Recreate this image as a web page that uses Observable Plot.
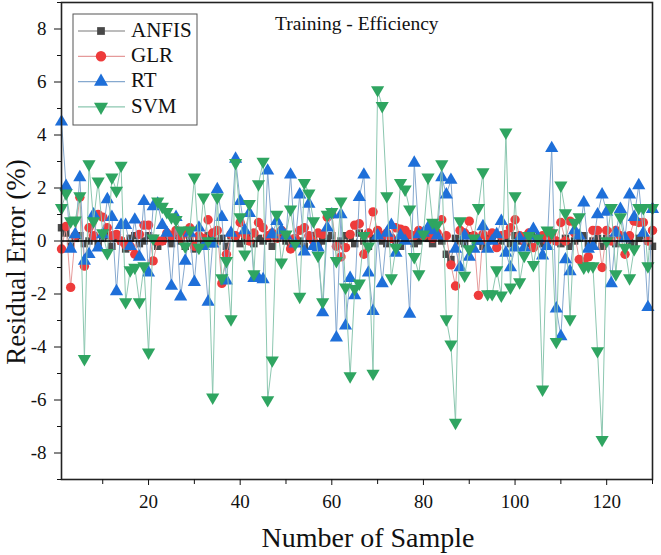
<!DOCTYPE html>
<html>
<head>
<meta charset="utf-8">
<script src="https://cdn.jsdelivr.net/npm/d3@7"></script>
<script src="https://cdn.jsdelivr.net/npm/@observablehq/plot@0.6"></script>
<style>
  html, body { margin: 0; padding: 0; background: #fff; }
  #chart { width: 661px; height: 555px; }
  #chart svg, #chart svg g, #chart svg text { font-family: "Liberation Serif", "Times New Roman", serif !important; font-variant: normal !important; }
</style>
</head>
<body>
<div id="chart"></div>
<script>
// ---- Data ----
const seriesNames = ["ANFIS", "GLR", "RT", "SVM"];
const xTicks = [20, 40, 60, 80, 100, 120];
const xMinorTicks = [10, 30, 50, 70, 90, 110, 130];
const yTicks = [-8, -6, -4, -2, 0, 2, 4, 6, 8];
const yMinorTicks = [-9, -7, -5, -3, -1, 1, 3, 5, 7, 9];

const anfis = [0.5,0.3,-0.2,0.1,0.2,-0.1,0.0,0.2,-0.1,0.1,
  0.2,-0.2,0.1,0.0,-0.3,0.1,0.2,-0.1,0.0,0.2,
  0.1,-0.2,0.0,0.1,-0.1,0.2,0.0,-0.2,0.1,-0.3,
  0.0,0.1,0.2,-0.1,0.0,0.1,-0.2,0.2,0.1,-0.1,
  0.0,0.2,-0.1,0.1,0.0,0.1,-0.2,0.1,0.2,0.0,
  -0.1,0.1,0.0,-0.2,0.1,0.2,-0.1,0.0,0.1,0.2,
  -0.1,0.0,0.2,0.1,-0.1,0.3,0.0,-0.2,0.1,0.2,
  0.0,-0.1,0.1,0.0,-0.2,0.1,0.2,-0.1,0.0,0.3,
  0.1,-0.1,0.2,0.0,-0.5,-0.7,0.1,0.0,-0.1,0.2,
  0.1,0.0,-0.2,0.1,0.2,-0.1,0.0,0.1,-0.1,0.2,
  0.0,0.1,-0.1,0.2,0.0,-0.1,0.1,0.2,0.0,-0.1,
  0.1,-0.2,0.0,0.1,0.2,-0.1,0.0,0.1,-0.2,0.1,
  0.0,-0.1,0.2,0.1,0.0,-0.1,0.1,0.2,0.0,-0.2];

const glr = [-0.3,0.55,-1.75,0.2,1.65,-0.95,0.5,0.2,1.0,0.9,
  0.5,0.2,0.25,0.0,-0.15,-0.2,-0.5,0.25,0.6,0.6,
  -0.75,0.0,0.0,0.3,0.2,0.4,0.1,0.3,0.5,-0.2,
  0.2,0.1,0.8,0.3,0.4,-1.6,-0.5,0.25,0.2,0.7,
  0.25,0.0,0.3,0.7,0.5,0.2,0.3,0.1,0.4,0.2,
  -0.3,0.1,0.4,0.5,0.2,0.0,0.3,0.25,0.9,1.0,
  -0.2,-0.6,-0.25,0.25,0.6,0.65,-0.5,0.3,1.1,0.4,
  0.2,0.3,0.1,0.5,0.45,0.4,0.25,0.2,0.4,0.2,
  0.3,0.1,0.3,0.8,0.2,-0.9,-1.7,0.4,0.3,0.75,
  0.2,-2.05,0.25,0.0,0.3,-0.25,0.2,0.25,0.5,0.8,
  0.2,0.0,0.3,-0.25,0.1,0.2,0.0,0.3,0.0,0.7,
  0.0,0.75,0.3,-0.7,-0.8,-0.6,0.4,0.4,-1.0,0.4,
  0.0,0.4,0.2,-0.5,0.2,0.75,0.7,0.7,0.0,0.4];

const rt = [4.5,2.07,-0.3,0.25,2.4,-0.75,-0.5,1.0,-0.25,0.25,
  1.57,0.9,-1.9,0.6,0.6,-0.2,0.8,-0.6,1.5,-1.2,
  1.3,1.4,0.6,0.3,-1.7,0.9,-2.1,-0.75,0.3,-1.55,
  0.5,-0.2,-2.3,-0.1,1.95,0.9,-1.5,0.3,3.1,1.5,
  0.4,1.05,-1.4,-1.4,-1.45,2.65,0.25,0.75,0.4,0.2,
  2.5,-0.1,1.75,-0.4,1.4,-0.2,-0.25,-2.7,0.5,1.0,
  -3.65,1.0,-3.2,-1.4,-2.05,1.65,2.5,-1.2,-2.65,0.2,
  -1.6,0.3,0.6,-0.45,0.2,0.0,-2.75,2.95,0.25,0.3,
  0.5,0.4,0.2,2.4,1.75,2.3,-0.3,-1.0,0.2,-0.6,
  -0.3,0.0,0.55,-0.3,0.0,0.25,0.75,-0.45,-1.0,-0.25,
  0.1,-0.25,0.2,0.45,0.1,-0.55,-0.2,3.5,-2.55,-3.6,
  -0.7,-1.15,0.4,0.2,1.45,-0.3,-0.2,1.0,1.75,1.1,
  -1.6,0.3,1.2,0.1,1.75,0.9,2.1,0.3,-2.5,1.2];

const svm = [1.25,1.8,0.75,0.78,1.7,-4.45,2.9,0.75,2.25,0.3,
  -0.45,2.4,1.9,2.85,-2.3,-1.1,-1.0,-2.3,-0.95,-4.2,
  0.1,1.5,1.3,1.1,0.9,0.8,0.4,-0.2,0.4,2.4,
  -0.25,1.65,0.0,-5.9,1.65,-1.4,-0.75,-2.95,2.95,0.9,
  -0.5,1.4,-1.25,2.15,3.0,-6.0,-4.5,1.0,-0.8,0.25,
  1.2,-0.1,-2.1,2.2,1.8,0.75,-0.55,-2.3,1.0,1.1,
  -0.75,1.5,-1.75,-5.1,-1.8,-1.6,0.2,-0.2,-5.0,5.7,
  5.1,1.7,-1.4,-0.25,2.2,1.95,1.2,-0.6,-1.25,0.25,
  2.4,0.7,0.6,2.9,-2.95,-3.9,-6.85,0.75,-1.3,-0.3,
  0.1,1.25,2.6,-2.0,-2.0,-1.1,-2.05,4.1,-1.75,1.7,
  -1.55,-0.55,0.2,-0.9,0.1,-5.6,0.4,0.3,-3.8,2.1,
  1.05,-2.95,0.7,0.9,-1.0,-0.95,-0.95,-4.15,-7.5,0.0,
  1.25,-1.25,0.9,-0.25,-1.4,-0.3,1.25,1.25,-0.95,1.25];

// ---- Build tables ----
const toRows = (vals) => vals.map((v, i) => ({sample: i + 1, value: v}));
const A = toRows(anfis), G = toRows(glr), R = toRows(rt), S = toRows(svm);

const col = {
  ANFIS: {line: "#7b7b7b", fill: "#484848"},
  GLR:   {line: "#e59a9a", fill: "#ee3b3b"},
  RT:    {line: "#86a9cf", fill: "#1e6fd9"},
  SVM:   {line: "#8cc7b0", fill: "#2fa561"}
};
const FONT = "Liberation Serif, Times New Roman, serif";
const plain = (d) => String(d);

const chart = Plot.plot({
  width: 661,
  height: 555,
  marginLeft: 61,
  marginRight: 9,
  marginTop: 2,
  marginBottom: 76,
  style: {fontFamily: FONT, fontSize: "19px", background: "#fff", color: "#111", overflow: "visible"},
  x: {domain: [1, 130]},
  y: {domain: [-9, 9]},
  marks: [
    Plot.line(A, {x: "sample", y: "value", stroke: col.ANFIS.line, strokeWidth: 1}),
    Plot.dot(A, {x: "sample", y: "value", symbol: "square", r: 4.2, fill: col.ANFIS.fill, stroke: "none"}),
    Plot.line(G, {x: "sample", y: "value", stroke: col.GLR.line, strokeWidth: 1}),
    Plot.dot(G, {x: "sample", y: "value", symbol: "circle", r: 4.7, fill: col.GLR.fill, stroke: "none"}),
    Plot.line(R, {x: "sample", y: "value", stroke: col.RT.line, strokeWidth: 1}),
    Plot.dot(R, {x: "sample", y: "value", symbol: "triangle", r: 4.9, fill: col.RT.fill, stroke: "none"}),
    Plot.line(S, {x: "sample", y: "value", stroke: col.SVM.line, strokeWidth: 1}),
    Plot.dot(S, {x: "sample", y: "value", symbol: "triangle", rotate: 180, r: 4.9, fill: col.SVM.fill, stroke: "none"}),
    Plot.ruleY([0], {stroke: "#000", strokeWidth: 1.5}),
    Plot.frame({stroke: "#222", strokeWidth: 1.6}),
    Plot.axisY(yTicks, {tickSize: 7, tickPadding: 8, label: null, fontSize: 19, tickFormat: plain}),
    Plot.axisY(yMinorTicks, {tickSize: 4, tickFormat: () => "", label: null}),
    Plot.axisX(xTicks, {tickSize: 6, tickPadding: 9, label: null, fontSize: 19, tickFormat: plain}),
    Plot.axisX(xMinorTicks, {tickSize: 5, tickFormat: () => "", label: null})
  ]
});

document.getElementById("chart").appendChild(chart);

// ---- Annotations: title, axis labels, legend ----
const svg = d3.select(chart);

svg.append("text")
  .attr("x", 275).attr("y", 26)
  .attr("text-anchor", "start").attr("dominant-baseline", "middle")
  .attr("font-size", 19.5).attr("fill", "#111")
  .text("Training - Efficiency");

svg.append("text")
  .attr("x", 368).attr("y", 541)
  .attr("text-anchor", "middle").attr("dominant-baseline", "middle")
  .attr("font-size", 28).attr("fill", "#111")
  .text("Number of Sample");

svg.append("text")
  .attr("transform", "translate(19,262) rotate(-90)")
  .attr("text-anchor", "middle").attr("dominant-baseline", "middle")
  .attr("font-size", 27).attr("fill", "#111")
  .text("Residual Error (%)");

const leg = svg.append("g");
leg.append("rect")
  .attr("x", 73).attr("y", 14).attr("width", 124).attr("height", 111)
  .attr("fill", "#fff").attr("stroke", "#555").attr("stroke-width", 1);
const legendSymbols = {ANFIS: d3.symbolSquare, GLR: d3.symbolCircle, RT: d3.symbolTriangle, SVM: d3.symbolTriangle};
seriesNames.forEach((name, i) => {
  const cy = 31 + i * 25.3;
  const g = leg.append("g");
  g.append("line").attr("x1", 78).attr("x2", 125).attr("y1", cy).attr("y2", cy)
    .attr("stroke", col[name].line).attr("stroke-width", 1.2);
  const size = name === "ANFIS" ? 60 : 85;
  g.append("path")
    .attr("d", d3.symbol(legendSymbols[name], size)())
    .attr("transform", `translate(101,${cy})` + (name === "SVM" ? " rotate(180)" : ""))
    .attr("fill", col[name].fill);
  g.append("text").attr("x", 131).attr("y", cy + 1)
    .attr("text-anchor", "start").attr("dominant-baseline", "middle")
    .attr("font-size", 21).attr("fill", "#111")
    .text(name);
});

// make sure every text (including tick labels) uses the serif face
svg.selectAll("text").style("font-family", "'Liberation Serif', 'Times New Roman', serif");
</script>
</body>
</html>
